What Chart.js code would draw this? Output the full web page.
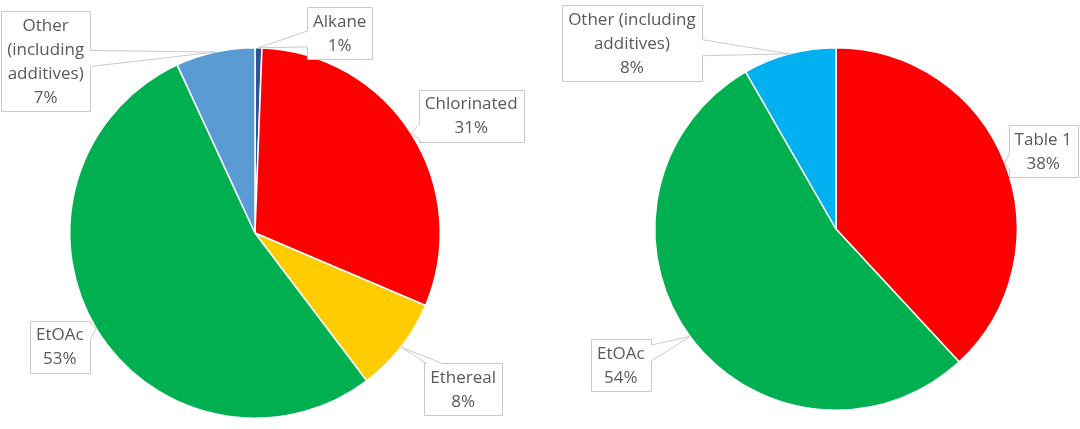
<!DOCTYPE html>
<html>
<head>
<meta charset="utf-8">
<script src="https://cdn.jsdelivr.net/npm/chart.js@4.4.1/dist/chart.umd.min.js"></script>
<style>
  html, body { margin: 0; padding: 0; background: #fff; }
  .wrap { position: relative; width: 1080px; height: 429px; }
  .half { position: absolute; top: 0; width: 540px; height: 429px; }
</style>
</head>
<body>
<div class="wrap">
  <div class="half" style="left:0"><canvas id="chart-left" width="540" height="429"></canvas></div>
  <div class="half" style="left:540px"><canvas id="chart-right" width="540" height="429"></canvas></div>
</div>
<script>
// ==============================
// DATA (shares, %)
// ==============================
const leftCategories = ["Alkane", "Chlorinated", "Ethereal", "EtOAc", "Other (including additives)"];
const leftValues = [0.6, 30.8, 8.3, 53.4, 6.9];

const rightCategories = ["Table 1", "EtOAc", "Other (including additives)"];
const rightValues = [38.1, 53.6, 8.3];

// ==============================
// STYLE
// ==============================
const leftColors = ["#2F5597", "#FF0000", "#FFCC00", "#00B050", "#5B9BD5"];
const rightColors = ["#FF0000", "#00B050", "#00B0F0"];

// callout box centres, relative to pie centre, in units of radius
const leftPlacement = [[0.457, -1.08], [1.167, -0.634], [1.124, 0.844], [-1.054, 0.613], [-1.13, -0.93]];
const rightPlacement = [[1.143, -0.429], [-1.187, 0.753], [-1.126, -1.027]];

const LABEL_FONT = "17px 'Open Sans', sans-serif";
const LINE_H = 24;
const PAD_X = 6;
const PAD_Y = 2;

function wrapText(ctx, text, maxWidth) {
    const words = text.split(" ");
    const lines = [];
    let cur = "";
    words.forEach(w => {
        const test = cur ? cur + " " + w : w;
        if (cur && ctx.measureText(test).width > maxWidth) {
            lines.push(cur);
            cur = w;
        } else {
            cur = test;
        }
    });
    if (cur) lines.push(cur);
    return lines;
}

// Excel-like callout: box with a wedge pointing at the slice
function drawCallout(ctx, cx, cy, w, h, tipX, tipY) {
    const L = Math.round(cx - w / 2) + 0.5, R = Math.round(cx + w / 2) + 0.5;
    const T = Math.round(cy - h / 2) + 0.5, B = Math.round(cy + h / 2) + 0.5;
    const dx = tipX - cx, dy = tipY - cy;
    const tx = dx !== 0 ? (w / 2) / Math.abs(dx) : Infinity;
    const ty = dy !== 0 ? (h / 2) / Math.abs(dy) : Infinity;
    const hw = 8;
    let edge = null, a = 0, b = 0;
    const inside = Math.abs(dx) <= w / 2 && Math.abs(dy) <= h / 2;
    if (!inside) {
        if (tx < ty) {
            edge = dx > 0 ? "R" : "L";
            const iy = cy + dy * tx;
            a = Math.max(T + 2, Math.min(B - 2 - 2 * hw, iy - hw));
            b = a + 2 * hw;
        } else {
            edge = dy > 0 ? "B" : "T";
            const ix = cx + dx * ty;
            a = Math.max(L + 2, Math.min(R - 2 - 2 * hw, ix - hw));
            b = a + 2 * hw;
        }
    }
    ctx.beginPath();
    ctx.moveTo(L, T);
    if (edge === "T") { ctx.lineTo(a, T); ctx.lineTo(tipX, tipY); ctx.lineTo(b, T); }
    ctx.lineTo(R, T);
    if (edge === "R") { ctx.lineTo(R, a); ctx.lineTo(tipX, tipY); ctx.lineTo(R, b); }
    ctx.lineTo(R, B);
    if (edge === "B") { ctx.lineTo(b, B); ctx.lineTo(tipX, tipY); ctx.lineTo(a, B); }
    ctx.lineTo(L, B);
    if (edge === "L") { ctx.lineTo(L, b); ctx.lineTo(tipX, tipY); ctx.lineTo(L, a); }
    ctx.closePath();
    ctx.fillStyle = "#ffffff";
    ctx.fill();
    ctx.strokeStyle = "#c9c9c9";
    ctx.lineWidth = 1;
    ctx.stroke();
}

const calloutPlugin = {
    id: "callouts",
    afterDatasetsDraw(chart, args, opts) {
        const ctx = chart.ctx;
        const meta = chart.getDatasetMeta(0);
        const values = chart.data.datasets[0].data;
        const total = values.reduce((s, v) => s + v, 0);
        ctx.save();
        ctx.font = LABEL_FONT;
        ctx.textAlign = "center";
        ctx.textBaseline = "middle";
        meta.data.forEach((arc, i) => {
            const p = arc.getProps(["x", "y", "startAngle", "endAngle", "outerRadius"], true);
            const mid = (p.startAngle + p.endAngle) / 2;
            const tipX = p.x + Math.cos(mid) * p.outerRadius;
            const tipY = p.y + Math.sin(mid) * p.outerRadius;
            const place = opts.placement[i];
            const cx = p.x + place[0] * p.outerRadius;
            const cy = p.y + place[1] * p.outerRadius;

            const lines = wrapText(ctx, chart.data.labels[i], opts.wrapWidth);
            lines.push(Math.round(values[i] / total * 100) + "%");
            const w = Math.max(...lines.map(l => ctx.measureText(l).width)) + 2 * PAD_X;
            const h = lines.length * LINE_H + 2 * PAD_Y;

            drawCallout(ctx, cx, cy, w, h, tipX, tipY);

            ctx.fillStyle = "#595959";
            const top = cy - (lines.length * LINE_H) / 2 + LINE_H / 2;
            lines.forEach((l, k) => ctx.fillText(l, cx, top + k * LINE_H + 1));
        });
        ctx.restore();
    }
};

function makePie(canvasId, labels, values, colors, padding, placement, wrapWidth) {
    return new Chart(document.getElementById(canvasId), {
        type: "pie",
        data: {
            labels: labels,
            datasets: [{
                data: values,
                backgroundColor: colors,
                borderColor: "#ffffff",
                borderWidth: 1.5
            }]
        },
        options: {
            responsive: false,
            animation: false,
            layout: { padding: padding },
            plugins: {
                legend: { display: false },
                tooltip: { enabled: false },
                callouts: { placement: placement, wrapWidth: wrapWidth }
            }
        },
        plugins: [calloutPlugin]
    });
}

makePie("chart-left", leftCategories, leftValues, leftColors,
    { left: 69, right: 99, top: 47, bottom: 10 }, leftPlacement, 84);
makePie("chart-right", rightCategories, rightValues, rightColors,
    { left: 114, right: 62, top: 47, bottom: 18 }, rightPlacement, 136);
</script>
</body>
</html>
